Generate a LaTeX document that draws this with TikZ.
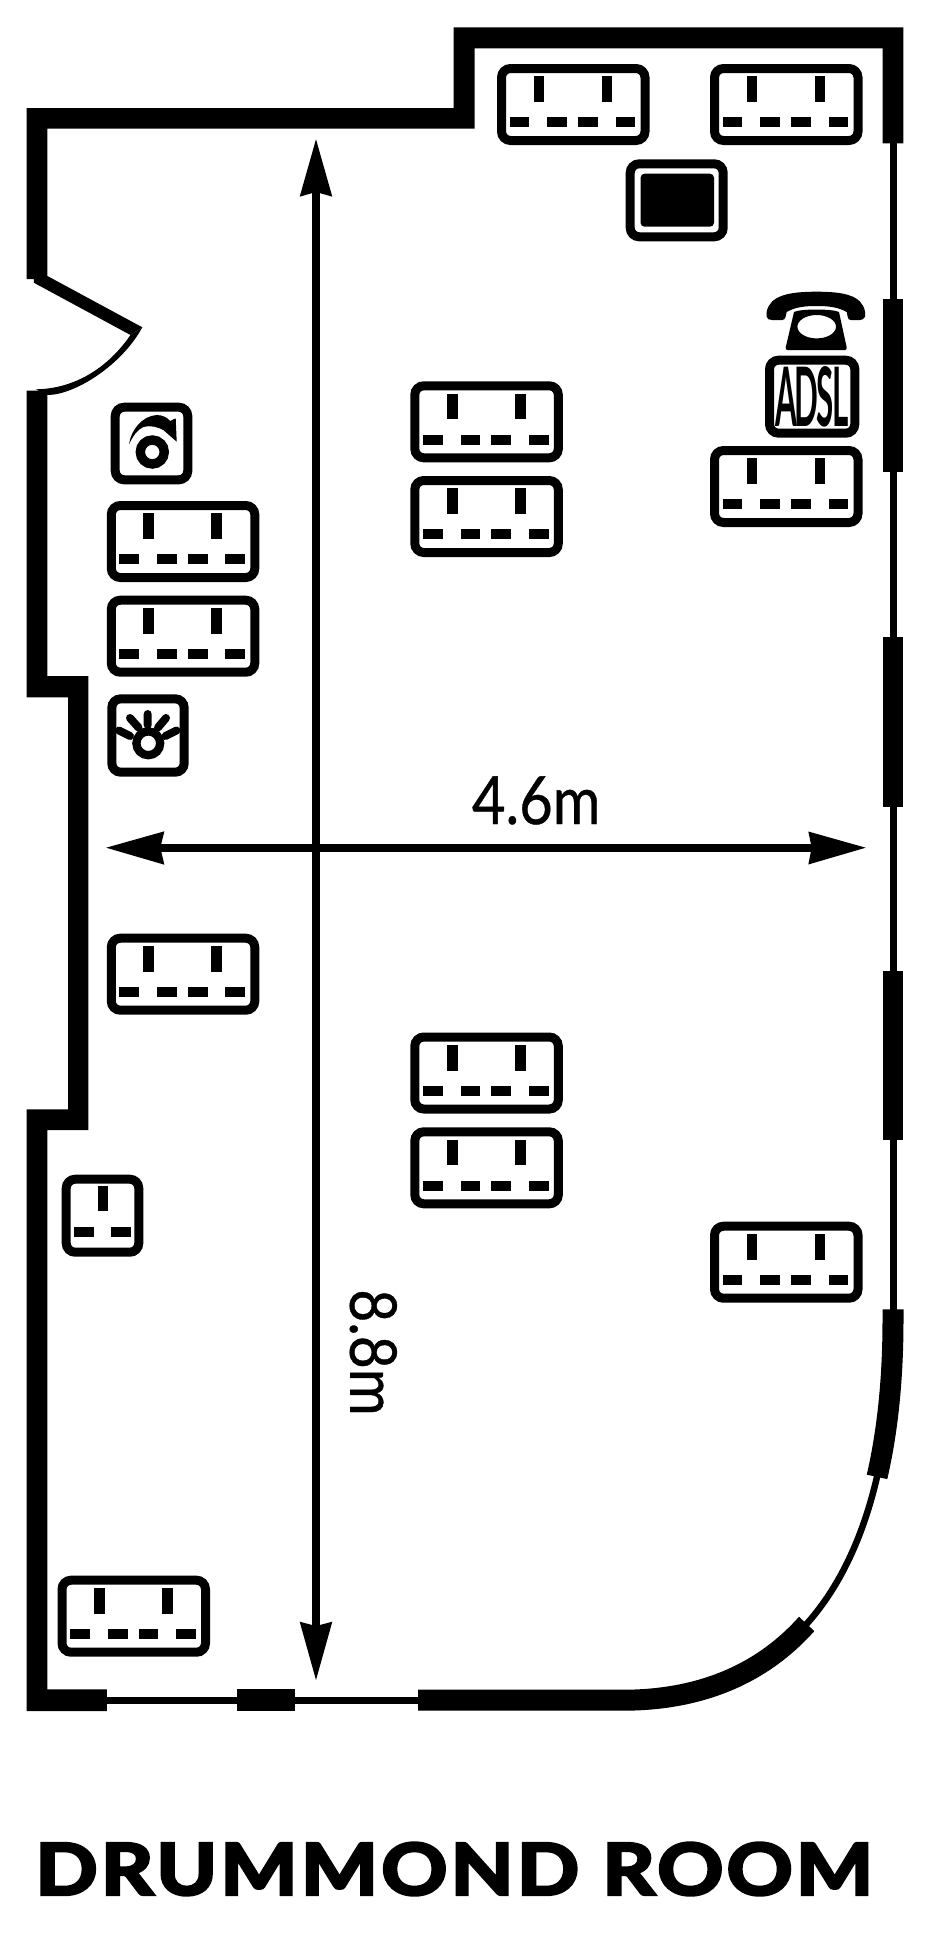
\documentclass[tikz,border=0pt]{standalone}
\usepackage{graphicx}
\usepackage{fontspec}
\setmainfont{Lato}
\newfontfamily\titlefont{Lato}[BoldFeatures={FakeBold=4}]
\newfontfamily\dimfont{Lato}[UprightFeatures={FakeBold=0.6}]
\tikzset{
  solid black/.style={fill=black,draw=none},
  plate/.style={draw=black,fill=white,line width=9pt,rounded corners=9pt},
  thinwall/.style={draw=black,line width=7pt,line cap=butt},
  thickwall/.style={draw=black,line width=21pt,line cap=butt},
  dim line/.style={draw=black,line width=7.7pt,line cap=butt},
  label text/.style={inner sep=0pt,outer sep=0pt,text=black},
  double socket/.pic={
    \draw[plate] (4.5,4.5) rectangle (148,76.5);
    \fill[black] (36.6,12.3) rectangle (47.3,38);
    \fill[black] (104.6,12.3) rectangle (115.3,38);
    \fill[black] (12.6,53.3) rectangle (32.3,63.3);
    \fill[black] (50.3,53.3) rectangle (70,63.3);
    \fill[black] (81,53.3) rectangle (100.7,63.3);
    \fill[black] (118.6,53.3) rectangle (138.3,63.3);
  }
}
\begin{document}
\begin{tikzpicture}[x=1pt,y=-1pt]
\useasboundingbox (0,0) rectangle (930,1938);
\fill[white] (0,0) rectangle (930,1938);
% right-hand glazing
\draw[thinwall] (893,143) -- (893,1320);
\fill[black] (882.6,299.3) rectangle (903.3,472.3);
\fill[black] (882.6,637.3) rectangle (903.3,806.7);
\fill[black] (882.6,971) rectangle (903.3,1140);
% walls: upper run with door leaf
\fill[black] (26.7,279) -- (26.7,108) -- (453.7,108) -- (453.7,27.3) -- (903.3,27.3) -- (903.3,143.3)
  -- (882.6,143.3) -- (882.6,48.3) -- (474.5,48.3) -- (474.5,128.7) -- (47.4,128.7) -- (47.4,276)
  -- (142.3,327.3) -- (130.5,335) -- (33.8,282.7) -- (33.8,279) -- cycle;
% door swing
\fill[black] (142.3,327.3) .. controls (122,365) and (75,395) .. (47.4,395) -- (35.6,389.3)
  .. controls (70,389) and (105,372) .. (130.5,335) -- cycle;
% walls: lower run
\fill[black] (26.7,390.7) -- (47.4,390.7) -- (47.4,676) -- (88.3,676) -- (88.3,1130) -- (47.4,1130)
  -- (47.4,1689.3) -- (106.8,1689.3) -- (106.8,1711) -- (26.7,1711) -- (26.7,1109.3) -- (68,1109.3)
  -- (68,697.3) -- (26.7,697.3) -- cycle;
% bottom glazing
\draw[thinwall] (106.8,1700.4) -- (418.1,1700.4);
\fill[black] (237.3,1689.3) rectangle (295.4,1711);
% curved corner
\draw[draw=black,line width=6.5pt] (622.8,1700.2) .. controls (797.8,1700.2) and (893,1567) .. (893,1320);
\begin{scope}
  \clip (725,1547.7) -- (890,1701.7) -- (890,1800) -- (400,1800) -- (400,1547.7) -- cycle;
  \draw[thickwall] (418.1,1700.2) -- (622.8,1700.2) .. controls (797.8,1700.2) and (893,1567) .. (893,1320);
\end{scope}
\begin{scope}
  \clip (800,1460.3) -- (950,1492.6) -- (950,1280) -- (800,1280) -- cycle;
  \draw[thickwall] (622.8,1700.2) .. controls (797.8,1700.2) and (893,1567) .. (893,1320) -- (893,1309.3);
\end{scope}
% sockets
\pic at (497,64) {double socket};
\pic at (710,64) {double socket};
\pic at (410.3,381.3) {double socket};
\pic at (410.3,476) {double socket};
\pic at (710,446) {double socket};
\pic at (106.8,501) {double socket};
\pic at (106.8,595.7) {double socket};
\pic at (106.8,933.7) {double socket};
\pic at (410.3,1032.5) {double socket};
\pic at (410.3,1127.3) {double socket};
\pic at (710,1221.7) {double socket};
\pic at (57.5,1575.7) {double socket};
% single socket
\draw[plate] (66.2,1179.2) rectangle (138.8,1252.2);
\fill[black] (97.7,1186) rectangle (108.3,1211);
\fill[black] (74,1227) rectangle (93.7,1236.7);
\fill[black] (111.3,1227) rectangle (131,1236.7);
% screen point
\draw[plate] (630.2,163.8) rectangle (723.2,236.8);
\fill[black,rounded corners=4pt] (640.5,173.7) rectangle (714,226.7);
% aerial symbol
\draw[plate] (115.2,407.2) rectangle (187.8,479.8);
\draw[black,line width=9.4pt] (152.3,452) circle (12pt);
\fill[black] (129,444.3) .. controls (131,430) and (142,416) .. (156.7,415)
  .. controls (163,415) and (168,418) .. (170,421) -- (175.7,418.3) -- (176.7,441.7) -- (163.3,430)
  .. controls (158,427) and (150,425) .. (143.3,427) .. controls (137,430) and (133,436) .. (129,444.3) -- cycle;
% light symbol
\draw[plate] (111.8,698.8) rectangle (184.2,772.2);
\draw[black,line width=8.3pt] (148.3,743.3) circle (11.9pt);
\draw[black,line width=8pt,line cap=round]
  (147.7,714) -- (147.7,725)
  (130,718) -- (138.5,727.5)
  (166,718) -- (158,727.5)
  (119,730.5) -- (130,736)
  (176.5,730.5) -- (165.5,736);
% telephone
\fill[black] (766.7,311.7) .. controls (770,295) and (790,291.7) .. (816.7,291.7)
  .. controls (843,291.7) and (862,295) .. (865,311.7) -- (865,316.7)
  .. controls (864,319) and (862,320) .. (860,320) -- (851,320)
  .. controls (849,320) and (848,319) .. (847.7,317) -- (846.7,312)
  .. controls (838,307) and (828,306) .. (816.7,306)
  .. controls (805,306) and (795,307) .. (786.7,312) -- (785.5,317)
  .. controls (785,319) and (784,320) .. (782,320) -- (772,320)
  .. controls (769,320) and (767,319) .. (766.7,316.7) -- cycle;
\fill[black,even odd rule] (794,312) .. controls (800,308.7) and (833,308.7) .. (839,312)
  -- (846.7,347.5) .. controls (847,349) and (846,350) .. (845,350) -- (787.5,350)
  .. controls (786,350) and (785.5,349) .. (785.7,347.5) -- cycle
  (816.7,326.7) ellipse (19.3pt and 11.7pt);
% ADSL box
\draw[plate] (769.5,360.2) rectangle (854.8,433.2);
\node[label text] (adsl) at (811.7,396.7) {\resizebox{73.3pt}{60pt}{\bfseries\addfontfeature{LetterSpace=-6}ADSL}};
% dimensions
\draw[dim line] (316,192) -- (316,1626);
\fill[black] (316,139.3) -- (332.3,196.7) -- (316,192) -- (299.7,196.7) -- cycle;
\fill[black] (316,1680) -- (332.3,1621.7) -- (316,1626) -- (299.7,1621.7) -- cycle;
\draw[dim line] (160.3,847.7) -- (811.7,847.7);
\fill[black] (106.2,847.7) -- (164.4,831.3) -- (160.3,847.7) -- (164.4,864.7) -- cycle;
\fill[black] (865.7,847.7) -- (808.3,831.5) -- (811.7,847.7) -- (808.3,864.5) -- cycle;
\node[label text] (width label) at (536.2,800.5) {\resizebox{128.5pt}{47.6pt}{\dimfont 4.6m}};
\node[label text,rotate=-90] (length label) at (373.3,1352.5) {\resizebox{126.4pt}{46.7pt}{\dimfont 8.8m}};
% title
\node[label text] (title) at (454.3,1869) {\resizebox{837.4pt}{52pt}{\titlefont\bfseries\addfontfeature{LetterSpace=4}DRUMMOND ROOM}};
\end{tikzpicture}
\end{document}
